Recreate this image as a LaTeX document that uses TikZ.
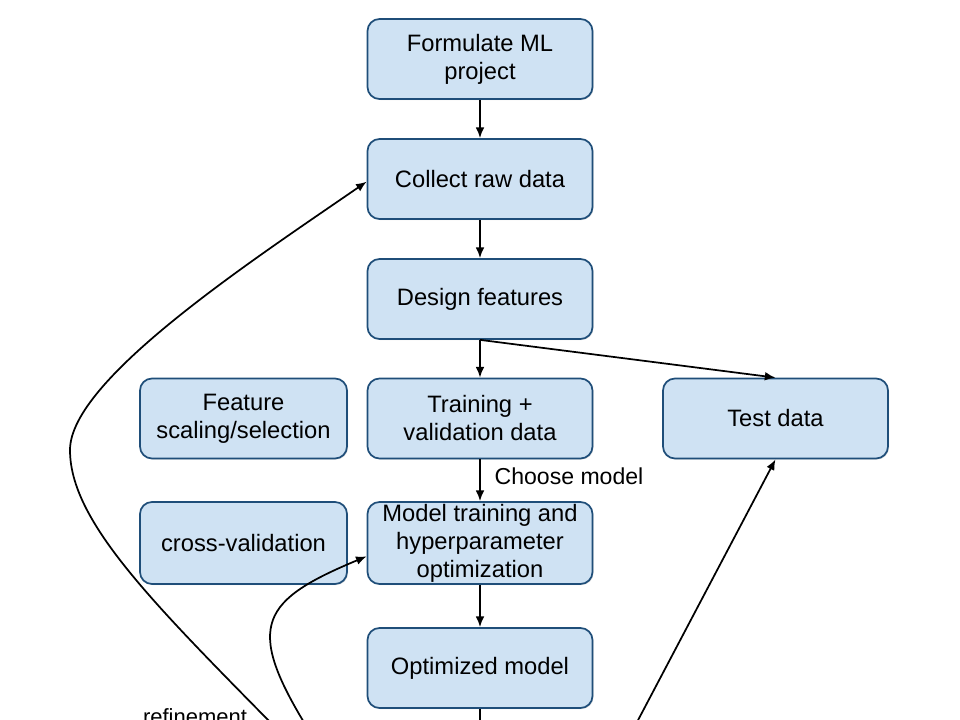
\documentclass[tikz,border=0pt]{standalone}
\usepackage{fontspec}
\setmainfont{Liberation Sans}
\usetikzlibrary{arrows.meta,shadows}
\definecolor{boxfill}{RGB}{207,226,243}
\definecolor{boxline}{RGB}{31,78,121}

\begin{document}
\begin{tikzpicture}[x=0.75pt,y=-0.75pt,
  stagebox/.style={draw=boxline,fill=boxfill,line width=1.3pt,rounded corners=9pt,
    minimum width=168.75pt,minimum height=60pt,align=center,inner ysep=0pt,
    font=\fontsize{17.8}{21}\selectfont,
    drop shadow={shadow xshift=0.8pt,shadow yshift=-0.8pt,opacity=0.25}},
  sidebox/.style={stagebox,minimum width=155.25pt},
  flow/.style={-{Latex[length=8pt,width=6.5pt]},line width=1.3pt},
  note/.style={font=\fontsize{16.5}{19}\selectfont}]

\useasboundingbox (0,0) rectangle (960,720);
\clip (0,0) rectangle (960,720);

% main column
\node[stagebox] (formulate) at (480,59) {Formulate ML\\project};
\node[stagebox] (collect) at (480,179) {Collect raw data};
\node[stagebox] (design) at (480,299) {Design features};
\node[stagebox] (trainval) at (480,418.5) {Training +\\validation data};
\node[stagebox,minimum height=61.5pt] (training) at (480,543) {Model training and\\hyperparameter\\optimization};
\node[stagebox] (optimized) at (480,668) {Optimized model};

% side boxes
\node[sidebox] (scaling) at (243.5,418.5) {Feature\\scaling/selection};
\node[sidebox,minimum height=61.5pt] (crossval) at (243.5,543) {cross-validation};
\node[stagebox] (test) at (775.5,418.5) {Test data};

% free ends below the page
\coordinate (outbottom) at (480,730);
\coordinate (testfoot) at (636,724);
\coordinate (loopfoot) at (305,724);
\coordinate (refinefoot) at (272,724);

\draw[flow] (formulate) -- (collect);
\draw[flow] (collect) -- (design);
\draw[flow] (design) -- (trainval);
\draw[flow] (design.south) -- (test.north);
\draw[flow] (trainval) -- node[note,right,xshift=7pt,yshift=3pt,font=\fontsize{17.3}{19}\selectfont]{Choose model} (training);
\draw[flow] (training) -- (optimized);
\draw[line width=1.3pt] (optimized) -- (outbottom);

\draw[flow] (testfoot) -- (test.south);
\draw[flow] (loopfoot) .. controls (245,625) and (262,600) .. ([yshift=-10pt]training.west);
\draw[flow] (refinefoot) .. controls (150,600) and (70,520) .. (70,450)
  .. controls (70,380) and (250,262) .. ([yshift=-2pt]collect.west);

\node[note,anchor=base] (refine) at (195,724) {refinement};

\end{tikzpicture}
\end{document}
